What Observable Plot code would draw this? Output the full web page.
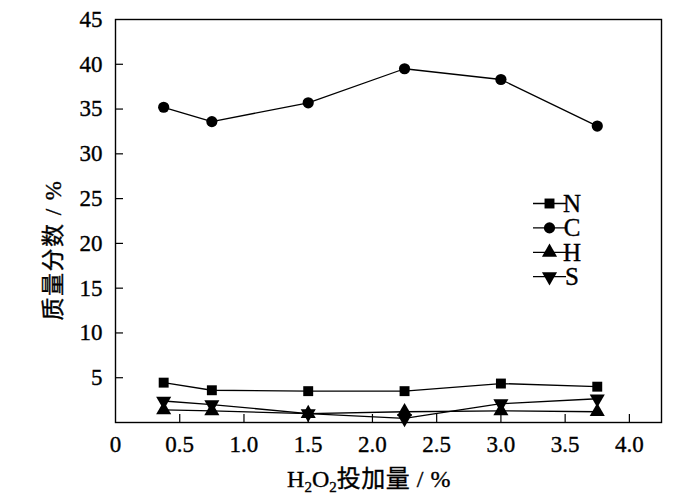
<!DOCTYPE html>
<html>
<head>
<meta charset="utf-8">
<script src="https://cdn.jsdelivr.net/npm/d3@7"></script>
<script src="https://cdn.jsdelivr.net/npm/@observablehq/plot@0.6"></script>
<style>
  html, body { margin: 0; padding: 0; background: #fff; }
  #chart { position: relative; width: 700px; height: 502px; }
  #chart svg text { font-family: "Liberation Serif", "Noto Sans CJK SC", serif !important; font-variant: normal !important; stroke: #000; stroke-width: 0.35px; paint-order: stroke; }
</style>
</head>
<body>
<div id="chart"></div>
<script>
// ---- data ----
const xDose = [0.375, 0.75, 1.5, 2.25, 3.0, 3.75];
const valN = [4.45, 3.6, 3.5, 3.5, 4.35, 4.0];
const valC = [35.2, 33.6, 35.7, 39.5, 38.3, 33.1];
const valH = [1.4, 1.3, 1.0, 1.2, 1.3, 1.2];
const valS = [2.4, 2.0, 1.0, 0.45, 2.1, 2.65];
const seriesNames = ["N", "C", "H", "S"];
const xTicks = [0, 0.5, 1.0, 1.5, 2.0, 2.5, 3.0, 3.5, 4.0];
const yTicks = [5, 10, 15, 20, 25, 30, 35, 40, 45];
const xTitle = ["H", "2", "O", "2", "投加量 / %"];
const yTitle = "质量分数 / %";

const symbolOf = {N: "square", C: "circle", H: "triangle", S: "triangle"};
const rotateOf = {N: 0, C: 0, H: 0, S: 180};
const valuesOf = {N: valN, C: valC, H: valH, S: valS};

const rows = seriesNames.flatMap(s => xDose.map((x, i) => ({series: s, x, y: valuesOf[s][i]})));

const W = 700, H = 502;
const mL = 115, mR = 39, mT = 19, mB = 80;
const xDomain = [0, 4.25], yDomain = [0, 45];
const pxPerX = (W - mL - mR) / (xDomain[1] - xDomain[0]);
const pxPerY = (H - mT - mB) / (yDomain[1] - yDomain[0]);
const tickLen = 8;
const fontSize = 23;
const font = '"Liberation Serif", "Noto Sans CJK SC", serif';
const latin = "Liberation Serif";

const marks = [
  Plot.frame({stroke: "#000", strokeWidth: 1.4}),
  // inward ticks
  Plot.ruleY(yTicks.slice(0, -1), {y: d => d, x1: 0, x2: tickLen / pxPerX, stroke: "#000", strokeWidth: 1.2}),
  Plot.ruleX(xTicks.slice(1), {x: d => d, y1: 0, y2: tickLen / pxPerY, stroke: "#000", strokeWidth: 1.2}),
  Plot.axisY(yTicks, {tickSize: 0, tickPadding: 13, fontSize, fontFamily: latin, anchor: "left", label: null}),
  Plot.axisX(xTicks, {tickSize: 0, tickPadding: 13, fontSize, fontFamily: latin, anchor: "bottom", label: null,
    tickFormat: d => d === 0 ? "0" : d.toFixed(1)}),
];
for (const s of seriesNames) {
  const data = rows.filter(r => r.series === s);
  marks.push(Plot.line(data, {x: "x", y: "y", stroke: "#000", strokeWidth: 1.3}));
}
for (const s of seriesNames) {
  const data = rows.filter(r => r.series === s);
  marks.push(Plot.dot(data, {x: "x", y: "y", symbol: () => symbolOf[s], rotate: rotateOf[s],
    r: 5.6, fill: "#000", stroke: "none"}));
}

const chart = Plot.plot({
  width: W, height: H,
  marginLeft: mL, marginRight: mR, marginTop: mT, marginBottom: mB,
  x: {domain: xDomain},
  y: {domain: yDomain},
  symbol: {type: "identity"},
  style: {fontFamily: font, color: "#000", background: "#fff"},
  marks
});
document.getElementById("chart").appendChild(chart);

// ---- titles and legend added into the same svg ----
const svg = d3.select(chart);

// x title with subscripts
const xt = svg.append("text")
  .attr("x", 369).attr("y", 487)
  .attr("text-anchor", "middle")
  .attr("font-size", 24)
  .attr("font-family", font)
  .attr("fill", "#000");
xt.append("tspan").text(xTitle[0]);
xt.append("tspan").attr("font-size", 15).attr("dy", 5).text(xTitle[1]);
xt.append("tspan").attr("dy", -5).text(xTitle[2]);
xt.append("tspan").attr("font-size", 15).attr("dy", 5).text(xTitle[3]);
xt.append("tspan").attr("dy", -5).attr("letter-spacing", 0.5).text(xTitle[4]);

// y title rotated
svg.append("text")
  .attr("transform", "translate(61,250) rotate(-90)")
  .attr("text-anchor", "middle")
  .attr("font-size", 23)
  .attr("letter-spacing", 1.5)
  .attr("font-family", font)
  .attr("fill", "#000")
  .text(yTitle);

// legend
const lg = svg.append("g");
seriesNames.forEach((s, i) => {
  const cy = 203.5 + i * 24.4;
  const g = lg.append("g").attr("transform", `translate(0,${cy})`);
  g.append("line").attr("x1", 533).attr("x2", 566).attr("y1", 0).attr("y2", 0)
    .attr("stroke", "#000").attr("stroke-width", 1.3);
  const sym = {square: d3.symbolSquare, circle: d3.symbolCircle, triangle: d3.symbolTriangle}[symbolOf[s]];
  g.append("path")
    .attr("d", d3.symbol(sym, Math.PI * 5.6 * 5.6)())
    .attr("transform", `translate(549.5,0) rotate(${rotateOf[s]})`)
    .attr("fill", "#000");
  g.append("text").attr("x", 572).attr("y", 8.5)
    .attr("font-size", 25)
    .attr("font-family", font)
    .attr("fill", "#000")
    .text(s);
});
</script>
</body>
</html>
